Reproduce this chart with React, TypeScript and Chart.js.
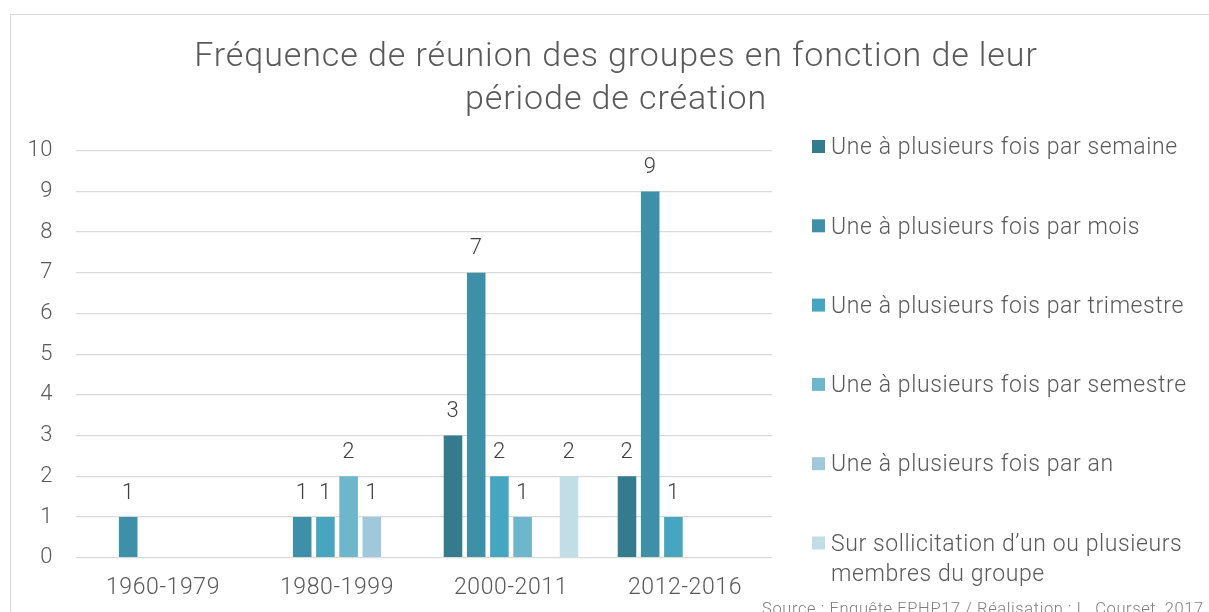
import React, { useEffect, useRef } from "react";
import { Chart, registerables } from "chart.js";

Chart.register(...registerables);

const titleLines = ["Fréquence de réunion des groupes en fonction de leur", "période de création"];
const categories = ["1960-1979", "1980-1999", "2000-2011", "2012-2016"];
const seriesLabels = [
  "Une à plusieurs fois par semaine",
  "Une à plusieurs fois par mois",
  "Une à plusieurs fois par trimestre",
  "Une à plusieurs fois par semestre",
  "Une à plusieurs fois par an",
  "Sur sollicitation d’un ou plusieurs membres du groupe",
];
const weekly = [0, 0, 3, 2];
const monthly = [1, 1, 7, 9];
const quarterly = [0, 1, 2, 1];
const halfYearly = [0, 2, 1, 0];
const yearly = [0, 1, 0, 0];
const onRequest = [0, 0, 2, 0];
const seriesColors = ["#347b8e", "#3e90a9", "#46a5bf", "#6db6cc", "#9fc9da", "#c1dde6"];
const sourceText = "Source : Enquête EPHP17 / Réalisation : L. Courset, 2017";

const FONT = "Roboto";
const W = 1209;
const H = 612;

function wrapText(ctx: CanvasRenderingContext2D, text: string, maxW: number): string[] {
  const words = text.split(" ");
  const lines: string[] = [];
  let cur = "";
  for (const w of words) {
    const test = cur ? cur + " " + w : w;
    if (ctx.measureText(test).width > maxW && cur) {
      lines.push(cur);
      cur = w;
    } else cur = test;
  }
  if (cur) lines.push(cur);
  return lines;
}

const framePlugin = {
  id: "frame",
  beforeDraw(chart: any) {
    const ctx = chart.ctx;
    (ctx as any).letterSpacing = "0.6px";
    ctx.save();
    ctx.fillStyle = "#ffffff";
    ctx.fillRect(0, 0, W, H);
    ctx.strokeStyle = "#d9d9d9";
    ctx.lineWidth = 1;
    ctx.strokeRect(10.5, 14.5, 1400, 800);
    // title
    ctx.font = `300 34px ${FONT}`;
    (ctx as any).letterSpacing = "0.9px";
    ctx.fillStyle = "#595959";
    ctx.textAlign = "center";
    ctx.textBaseline = "alphabetic";
    titleLines.forEach((ln, i) => ctx.fillText(ln, 616, 65.5 + i * 43));
    ctx.restore();
  },
};

const valueLabelPlugin = {
  id: "valueLabels",
  afterDatasetsDraw(chart: any) {
    const ctx = chart.ctx;
    ctx.save();
    ctx.font = `300 22px ${FONT}`;
    ctx.fillStyle = "#404040";
    ctx.textAlign = "center";
    ctx.textBaseline = "middle";
    chart.data.datasets.forEach((ds: any, i: number) => {
      const meta = chart.getDatasetMeta(i);
      meta.data.forEach((bar: any, j: number) => {
        const v = ds.data[j];
        if (!v) return;
        ctx.fillText(String(v), bar.x, bar.y - 24);
      });
    });
    ctx.restore();
  },
};

const sideLegendPlugin = {
  id: "sideLegend",
  afterDraw(chart: any) {
    const ctx = chart.ctx;
    ctx.save();
    ctx.font = `300 23px ${FONT}`;
    ctx.textAlign = "left";
    ctx.textBaseline = "middle";
    const x0 = 812;
    const top = 146.5;
    const step = 79.3;
    chart.data.datasets.forEach((ds: any, i: number) => {
      const cy = top + i * step;
      ctx.fillStyle = ds.backgroundColor;
      ctx.fillRect(x0, cy - 6.5, 13, 13);
      ctx.fillStyle = "#595959";
      const lines = wrapText(ctx, ds.label, W - 831 - 4);
      lines.forEach((ln, k) => ctx.fillText(ln, 831, cy + 2 + k * 30));
    });
    ctx.font = `300 16.5px ${FONT}`;
    ctx.fillStyle = "#7f7f7f";
    ctx.textBaseline = "alphabetic";
    ctx.fillText(sourceText, 762, 614);
    ctx.restore();
  },
};

export default function App() {
  const ref = useRef<HTMLCanvasElement>(null);
  useEffect(() => {
    if (!ref.current) return;
    const seriesData = [weekly, monthly, quarterly, halfYearly, yearly, onRequest];
    const chart = new Chart(ref.current, {
      type: "bar",
      data: {
        labels: categories,
        datasets: seriesData.map((d, i) => ({
          label: seriesLabels[i],
          data: d,
          backgroundColor: seriesColors[i],
          borderWidth: 0,
          categoryPercentage: 0.8,
          barPercentage: 0.8,
        })),
      },
      options: {
        responsive: false,
        animation: false,
        layout: { padding: { left: 0, right: W - 772, top: 150.7, bottom: 0 } },
        plugins: {
          legend: { display: false },
          tooltip: { enabled: false },
          title: { display: false },
        },
        scales: {
          x: {
            grid: { display: false, drawTicks: false },
            border: { display: false },
            ticks: { color: "#595959", font: { family: FONT, size: 23, weight: "300" as any }, padding: 17 },
            afterFit(scale: any) {
              scale.height = H - 557.7;
            },
          },
          y: {
            min: 0,
            max: 10,
            grid: { color: "#d9d9d9", lineWidth: 1.3, drawTicks: false },
            border: { display: false },
            ticks: { stepSize: 1, color: "#595959", font: { family: FONT, size: 22, weight: "300" as any }, padding: 23 },
            afterFit(scale: any) {
              scale.width = 76;
            },
          },
        },
      },
      plugins: [framePlugin, valueLabelPlugin, sideLegendPlugin],
    });
    return () => chart.destroy();
  }, []);
  return (
    <div style={{ position: "absolute", left: 0, top: 0, width: W, height: H }}>
      <canvas ref={ref} width={W} height={H} style={{ display: "block" }} />
    </div>
  );
}
